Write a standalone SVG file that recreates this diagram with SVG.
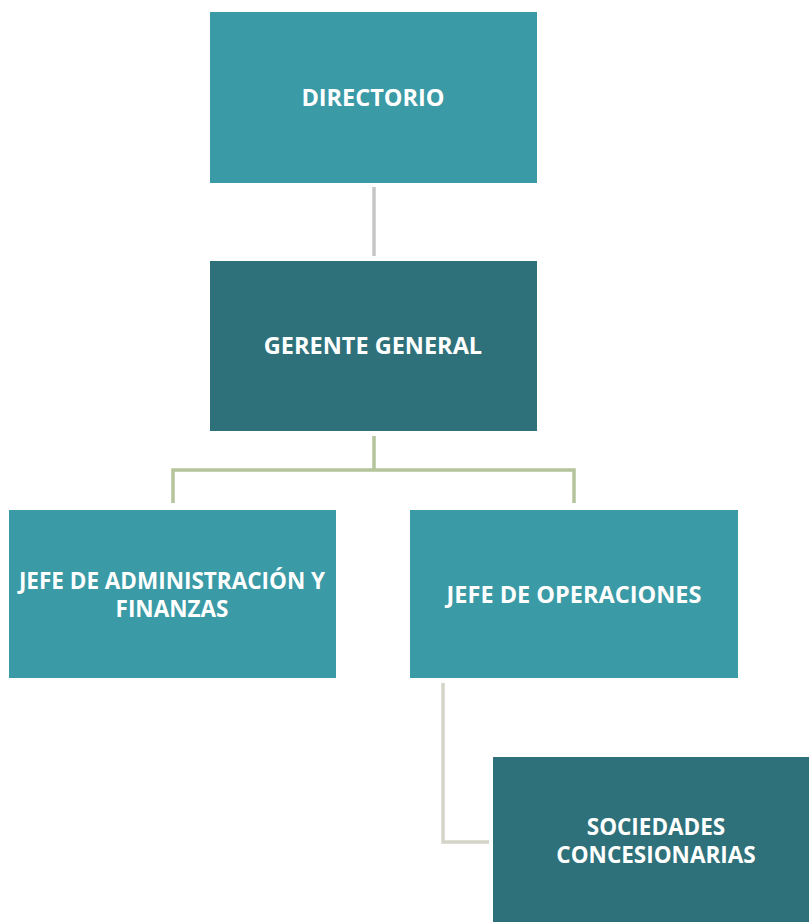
<svg xmlns="http://www.w3.org/2000/svg" width="809" height="922" viewBox="0 0 809 922">
<style>
.light{fill:#3a9aa5}
.dark{fill:#2e717a}
.t{font-family:"Open Sans","DejaVu Sans",sans-serif;font-weight:bold;font-size:23.5px;fill:#ffffff;text-anchor:middle}
.t2{font-size:22.5px}
.c1{stroke:#c6c6c6;stroke-width:3.5;fill:none}
.c2{stroke:#b4c49b;stroke-width:3.5;fill:none}
.c3{stroke:#d4d4c8;stroke-width:3.5;fill:none}
</style>
<rect width="809" height="922" fill="#ffffff"/>
<g id="connectors">
<line class="c1" x1="374" y1="187" x2="374" y2="256"/>
<path class="c2" d="M374 436 V470 M173 503 V470 H574 V503"/>
<path class="c3" d="M443 683 V842 H489"/>
</g>
<g id="directorio">
<rect class="light" x="210" y="12" width="327" height="171"/>
<text class="t" x="373" y="106">DIRECTORIO</text>
</g>
<g id="gerente">
<rect class="dark" x="210" y="261" width="327" height="170"/>
<text class="t" x="373" y="354">GERENTE GENERAL</text>
</g>
<g id="jefe-admin">
<rect class="light" x="9" y="510" width="327" height="168"/>
<text class="t t2" x="172" y="589">JEFE DE ADMINISTRACIÓN Y</text>
<text class="t t2" x="172" y="617">FINANZAS</text>
</g>
<g id="jefe-oper">
<rect class="light" x="410" y="510" width="328" height="168"/>
<text class="t" x="574" y="603">JEFE DE OPERACIONES</text>
</g>
<g id="sociedades">
<rect class="dark" x="493" y="757" width="316" height="165"/>
<text class="t t2" x="656" y="835">SOCIEDADES</text>
<text class="t t2" x="656" y="863">CONCESIONARIAS</text>
</g>
</svg>
